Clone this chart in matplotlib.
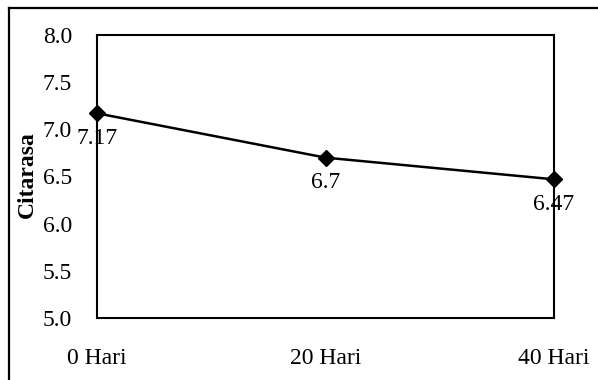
import matplotlib
matplotlib.use("Agg")
import matplotlib.pyplot as plt
from matplotlib.lines import Line2D

categories = ["0 Hari", "20 Hari", "40 Hari"]
citarasa = [7.17, 6.7, 6.47]
value_labels = ["7.17", "6.7", "6.47"]
y_ticks = [5.0, 5.5, 6.0, 6.5, 7.0, 7.5, 8.0]

plt.rcParams["font.family"] = ["Liberation Serif", "DejaVu Serif"]

W, H = 598, 380
FS = 17
fig = plt.figure(figsize=(W / 100, H / 100), dpi=100)
ax = fig.add_axes([97 / W, 1 - 318 / H, (554 - 97) / W, (318 - 35) / H])

x = list(range(len(categories)))
ax.plot(x, citarasa, color="black", linewidth=1.8, marker="D", markersize=8,
        markerfacecolor="black", markeredgecolor="black", clip_on=False, zorder=5)

for xi, yi, lab in zip(x, citarasa, value_labels):
    ax.annotate(lab, (xi, yi), xytext=(0, -18), textcoords="offset points",
                ha="center", va="center", fontsize=FS, color="black")

ax.set_xlim(0, 2)
ax.set_ylim(5.0, 8.0)
ax.set_xticks(x)
ax.set_xticklabels(categories)
ax.set_yticks(y_ticks)
ax.set_yticklabels([f"{v:.1f}" for v in y_ticks])
ax.tick_params(axis="both", length=0, labelsize=FS, colors="black")
ax.tick_params(axis="x", pad=21.5)
ax.tick_params(axis="y", pad=18)
for s in ax.spines.values():
    s.set_linewidth(1.5)
    s.set_color("black")

fig.text(27 / W, 1 - 175 / H, "Citarasa", rotation=90, ha="center", va="center",
         fontsize=FS, fontweight="bold", color="black")

# outer frame of the figure box
fig.add_artist(Line2D([9 / W, 9 / W], [0, 1 - 8 / H], transform=fig.transFigure,
                      color="black", linewidth=1.6))
fig.add_artist(Line2D([9 / W, 1], [1 - 8 / H, 1 - 8 / H], transform=fig.transFigure,
                      color="black", linewidth=1.6))

fig.savefig("out.png", dpi=100)
